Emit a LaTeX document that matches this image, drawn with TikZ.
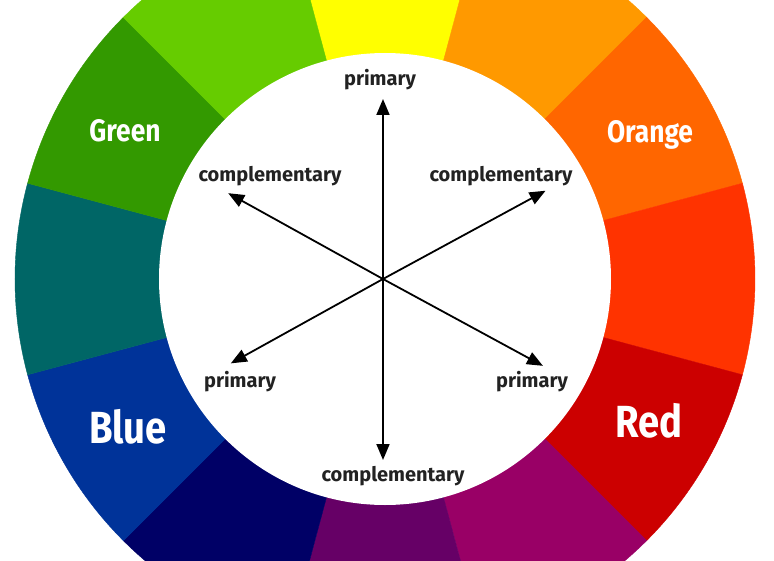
\documentclass[tikz,border=0pt]{standalone}
\usepackage{fontspec}
\setsansfont{Fira Sans}
\newfontfamily\huefont[FakeStretch=0.85]{Fira Sans}
\usetikzlibrary{arrows.meta,calc}
\definecolor{ink}{HTML}{222222}
\definecolor{wyellow}{HTML}{FFFF00}
\definecolor{wyelloworange}{HTML}{FF9900}
\definecolor{worange}{HTML}{FF6600}
\definecolor{wredorange}{HTML}{FF3300}
\definecolor{wred}{HTML}{CC0000}
\definecolor{wredviolet}{HTML}{990066}
\definecolor{wviolet}{HTML}{660066}
\definecolor{wblueviolet}{HTML}{000066}
\definecolor{wblue}{HTML}{003399}
\definecolor{wbluegreen}{HTML}{006666}
\definecolor{wgreen}{HTML}{339900}
\definecolor{wyellowgreen}{HTML}{66CC00}

\begin{document}
\begin{tikzpicture}[
  font=\sffamily\bfseries,
  pointer/.style={-{Triangle[length=16pt,width=13pt]}, draw=black, line width=1.8pt},
  tag/.style={text=ink, inner sep=0pt, font=\sffamily\bfseries\fontsize{20}{24}\selectfont},
  hue/.style={text=white, inner sep=0pt, font=\huefont\bfseries\fontsize{31}{36}\selectfont},
  bighue/.style={hue, font=\huefont\bfseries\fontsize{45}{52}\selectfont}
]
\useasboundingbox (-385pt,-281pt) rectangle (389pt,279pt);
\clip (-385pt,-281pt) rectangle (389pt,279pt);
\fill[white] (-385pt,-281pt) rectangle (389pt,279pt);

\foreach \a/\c in {90/wyellow,60/wyelloworange,30/worange,0/wredorange,
  -30/wred,-60/wredviolet,-90/wviolet,-120/wblueviolet,-150/wblue,
  180/wbluegreen,150/wgreen,120/wyellowgreen}{
  \filldraw[fill=\c, draw=\c, line width=0.4pt] (0,0) -- ({\a-15}:370pt)
    arc[start angle={\a-15}, delta angle=30, radius=370pt] -- cycle;
}
\fill[white] (0,0) circle[radius=226pt];

\node[hue] (green) at (-260pt,148pt) {Green};
\node[hue] (orange) at (265pt,144pt) {Orange};
\node[bighue] (blue) at (-257pt,-148pt) {Blue};
\node[bighue] (red) at (264pt,-142pt) {Red};

\coordinate (hub) at (-2pt,0pt);
\coordinate (tipN) at ($(hub)+(90:180pt)$);
\coordinate (tipS) at ($(hub)+(-90:181pt)$);
\coordinate (tipNE) at ($(hub)+(28.5:185pt)$);
\coordinate (tipNW) at ($(hub)+(151:177pt)$);
\coordinate (tipSW) at ($(hub)+(-151:174pt)$);
\coordinate (tipSE) at ($(hub)+(-28.5:182pt)$);
\foreach \t in {tipN,tipS,tipNE,tipNW,tipSW,tipSE}{
  \draw[pointer] (hub) -- (\t);
}

\node[tag] (primN) at (-5pt,199pt) {primary};
\node[tag] (compNW) at (-115pt,103pt) {complementary};
\node[tag] (compNE) at (116pt,103pt) {complementary};
\node[tag] (primSW) at (-145pt,-103pt) {primary};
\node[tag] (primSE) at (147pt,-103pt) {primary};
\node[tag] (compS) at (8pt,-197pt) {complementary};
\end{tikzpicture}
\end{document}
